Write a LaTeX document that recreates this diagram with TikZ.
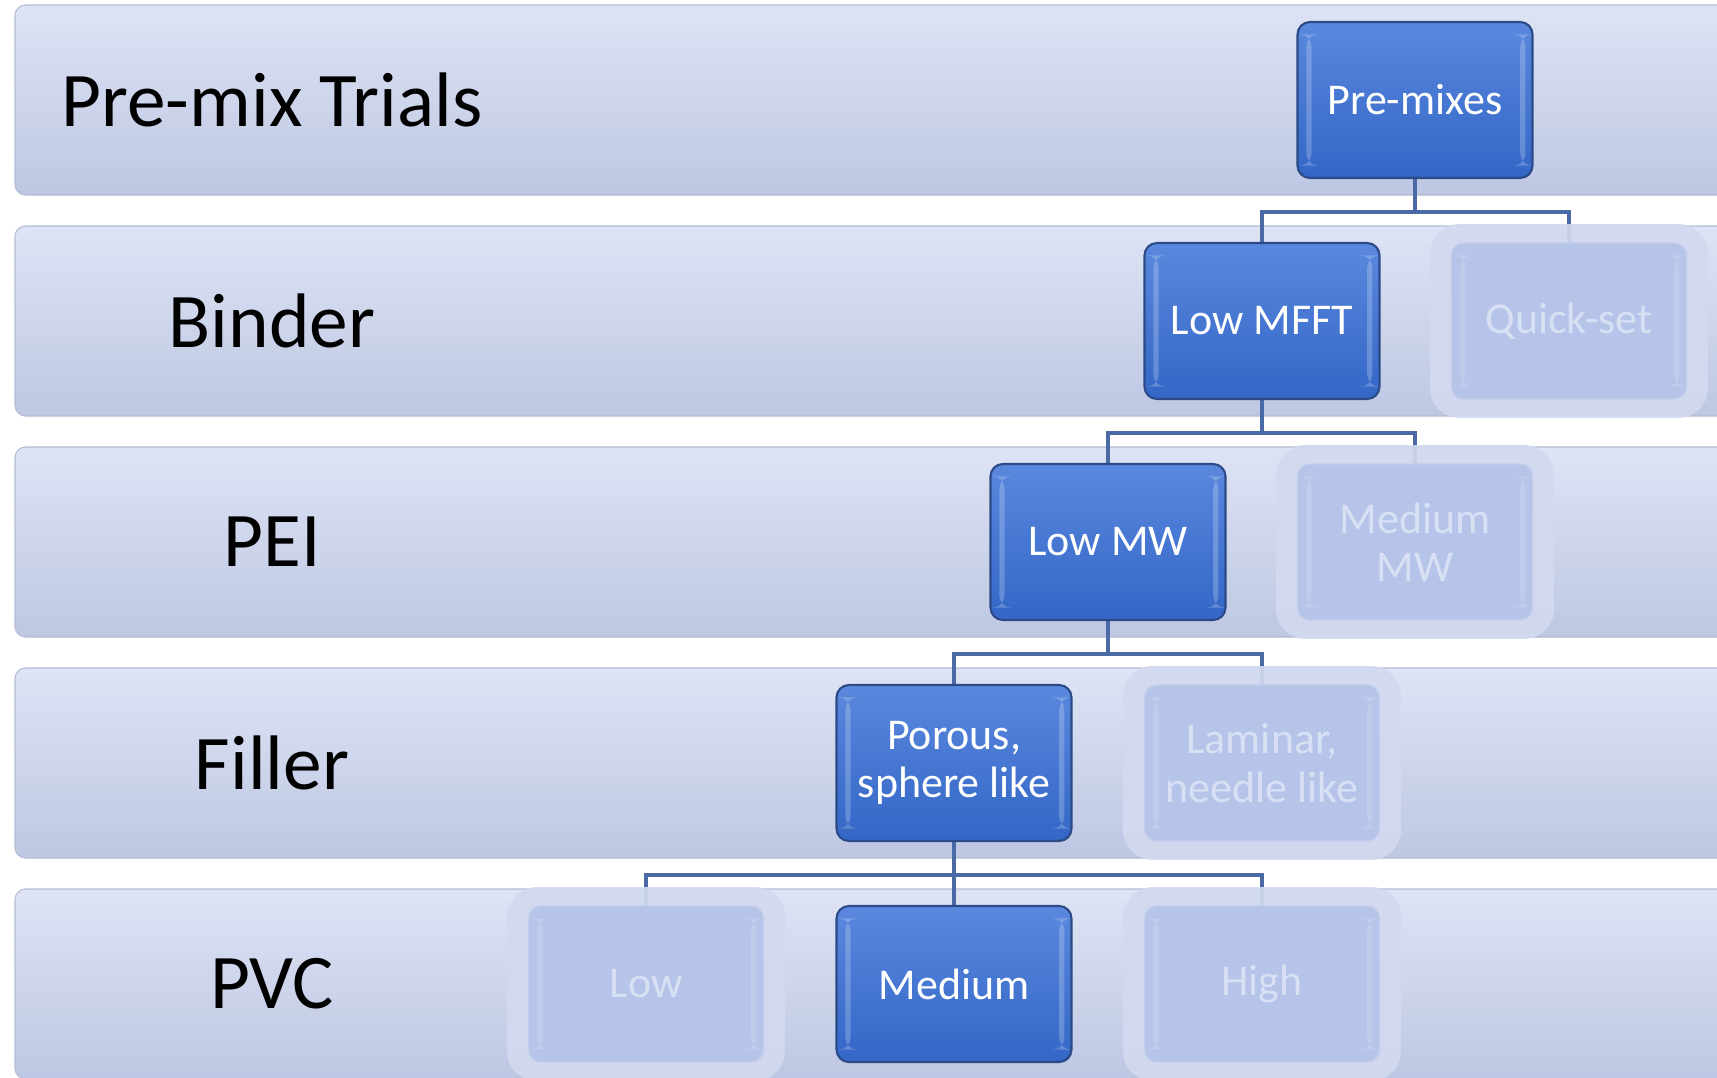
\documentclass[tikz,border=0pt]{standalone}
\usepackage{fontspec}
\setmainfont{Carlito}
\definecolor{bandtop}{HTML}{DEE4F5}
\definecolor{bandbot}{HTML}{BEC7E3}
\definecolor{bandline}{HTML}{B4BCD4}
\definecolor{boxtop}{HTML}{5A88DE}
\definecolor{boxbot}{HTML}{3366C6}
\definecolor{boxline}{HTML}{2B4A86}
\definecolor{fadefill}{HTML}{B5C4E8}
\definecolor{fadeline}{HTML}{C2CDEB}
\definecolor{fadetext}{HTML}{D8E0F4}
\definecolor{halofill}{HTML}{D3DAF0}
\definecolor{linkblue}{HTML}{4A6AA6}
\pgfdeclarelayer{bands}
\pgfdeclarelayer{links}
\pgfsetlayers{bands,links,main}

\begin{document}
\begin{tikzpicture}[x=0.02cm,y=-0.02cm,
		band/.style={top color=bandtop,bottom color=bandbot,draw=bandline,line width=.6pt,rounded corners=6pt},
		level/.style={font=\fontsize{44}{48}\selectfont,text=black},
		bevel/.style={path picture={
			\fill[white,opacity=#1] ([xshift=5pt,yshift=-7pt]path picture bounding box.north west) rectangle ([xshift=8pt,yshift=7pt]path picture bounding box.south west);
			\fill[white,opacity=#1] ([xshift=-4pt,yshift=-7pt]path picture bounding box.north east) rectangle ([xshift=-7pt,yshift=7pt]path picture bounding box.south east);}},
		chosen/.style={rectangle,rounded corners=7pt,minimum width=4.7cm,minimum height=3.12cm,top color=boxtop,bottom color=boxbot,draw=boxline,line width=1.2pt,text=white,align=center,font=\fontsize{25}{27.5}\selectfont,bevel=.22},
		dropped/.style={rectangle,rounded corners=7pt,minimum width=4.7cm,minimum height=3.12cm,fill=fadefill,draw=fadeline,line width=.8pt,text=fadetext,align=center,font=\fontsize{25}{27.5}\selectfont,bevel=.15},
		halo/.style={rectangle,rounded corners=17pt,minimum width=5.56cm,minimum height=3.88cm,fill=halofill,opacity=.9},
		link/.style={draw=linkblue,line width=2pt}]

	\useasboundingbox (0,0) rectangle (1717,1078);

	\begin{pgfonlayer}{bands}
		\foreach \i/\txt in {0/Pre-mix Trials,1/Binder,2/PEI,3/Filler,4/PVC} {
			\path[band] (15,5+221*\i) rectangle (1760,195+221*\i);
			\node[level] (lvl\i) at (272,100+221*\i) {\txt};
		}
	\end{pgfonlayer}

	% halos round the options that were left out
	\node[halo] (qsh) at (1569,321) {};
	\node[halo] (mmwh) at (1415,542) {};
	\node[halo] (lamh) at (1262,763) {};
	\node[halo] (lowh) at (646,984) {};
	\node[halo] (highh) at (1262,984) {};

	\node[chosen] (pre) at (1415,100) {Pre-mixes};
	\node[chosen] (mfft) at (1262,321) {Low MFFT};
	\node[dropped] (qs) at (1569,321) {Quick-set};
	\node[chosen] (mw) at (1108,542) {Low MW};
	\node[dropped] (mmw) at (1415,542) {Medium\\MW};
	\node[chosen] (por) at (954,763) {Porous,\\sphere like};
	\node[dropped] (lam) at (1262,763) {Laminar,\\needle like};
	\node[dropped] (low) at (646,984) {Low};
	\node[chosen] (med) at (954,984) {Medium};
	\node[dropped] (high) at (1262,984) {High};

	\begin{pgfonlayer}{links}
		\foreach \a/\b in {pre/mfft,pre/qs,mfft/mw,mfft/mmw,mw/por,mw/lam,por/low,por/med,por/high} {
			\draw[link] (\a.south) -- ++(0,33) -| (\b.north);
		}
	\end{pgfonlayer}
\end{tikzpicture}
\end{document}
